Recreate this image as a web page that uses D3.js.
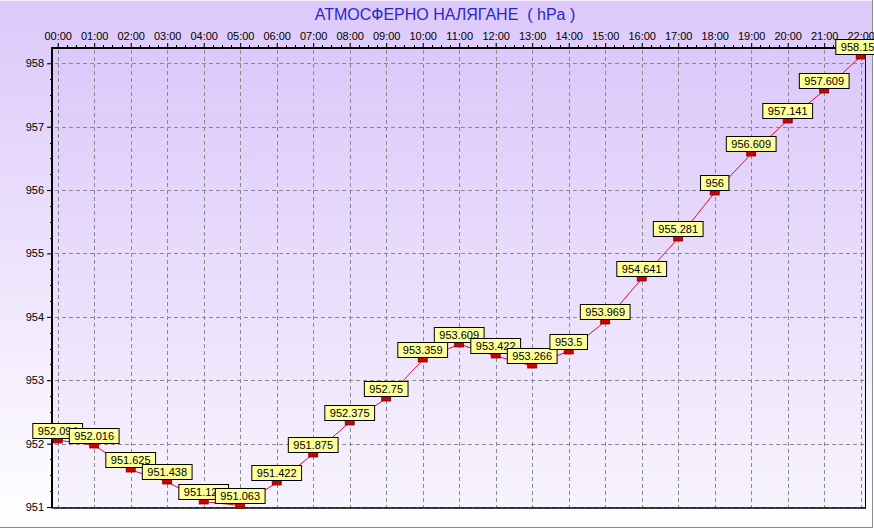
<!DOCTYPE html>
<html>
<head>
<meta charset="utf-8">
<script src="https://cdn.jsdelivr.net/npm/d3@7"></script>
<style>
  body { margin: 0; background: #fff; }
  svg { display: block; font-family: "Liberation Sans", Arial, sans-serif; }
</style>
</head>
<body>
<div id="chart"></div>
<script>
// hourly readings
const hours = ["00:00", "01:00", "02:00", "03:00", "04:00", "05:00", "06:00", "07:00", "08:00", "09:00", "10:00", "11:00",
  "12:00", "13:00", "14:00", "15:00", "16:00", "17:00", "18:00", "19:00", "20:00", "21:00", "22:00"];
const pressure = [952.094, 952.016, 951.625, 951.438, 951.125, 951.063, 951.422, 951.875, 952.375, 952.75, 953.359, 953.609,
  953.422, 953.266, 953.5, 953.969, 954.641, 955.281, 956, 956.609, 957.141, 957.609, 958.150];
const labels = ["952.094", "952.016", "951.625", "951.438", "951.125", "951.063", "951.422", "951.875", "952.375", "952.75", "953.359", "953.609",
  "953.422", "953.266", "953.5", "953.969", "954.641", "955.281", "956", "956.609", "957.141", "957.609", "958.150"];
const yTicks = [951, 952, 953, 954, 955, 956, 957, 958];
const title = "АТМОСФЕРНО НАЛЯГАНЕ  ( hPa )";

const data = hours.map((h, i) => ({ hour: h, value: pressure[i], label: labels[i] }));

const width = 874, height = 529;
const plot = { left: 53, top: 48, right: 865, bottom: 507.5 };

const x = d3.scalePoint().domain(hours).range([57.7, 860.7]);
const y = d3.scaleLinear().domain([951, 958]).range([507, 63.3]);

const svg = d3.select("#chart").append("svg").attr("width", width).attr("height", height);
const defs = svg.append("defs");

const bgGrad = defs.append("linearGradient").attr("id", "bg").attr("x1", 0).attr("y1", 0).attr("x2", 0).attr("y2", 1);
bgGrad.append("stop").attr("offset", "0%").attr("stop-color", "#dcc8fa");
bgGrad.append("stop").attr("offset", "100%").attr("stop-color", "#ffffff");

const plotGrad = defs.append("linearGradient").attr("id", "plotbg").attr("x1", 0).attr("y1", 0).attr("x2", 0).attr("y2", 1);
plotGrad.append("stop").attr("offset", "0%").attr("stop-color", "#dcc8fa");
plotGrad.append("stop").attr("offset", "100%").attr("stop-color", "#f7f3fe");

// background + panel border
svg.append("rect").attr("width", 873).attr("height", 528).attr("fill", "url(#bg)");
svg.append("line").attr("x1", 0).attr("x2", 873).attr("y1", 527.5).attr("y2", 527.5).attr("stroke", "#8c8c8c");
svg.append("line").attr("x1", 872.5).attr("x2", 872.5).attr("y1", 0).attr("y2", 528).attr("stroke", "#8c8c8c");
svg.append("line").attr("x1", 0).attr("x2", 872).attr("y1", 0.5).attr("y2", 0.5).attr("stroke", "#f4eefe");

svg.append("rect")
  .attr("x", plot.left).attr("y", plot.top)
  .attr("width", plot.right - plot.left).attr("height", plot.bottom - plot.top)
  .attr("fill", "url(#plotbg)");

// title
svg.append("text")
  .attr("x", 445).attr("y", 20)
  .attr("text-anchor", "middle")
  .attr("fill", "#2828c8")
  .style("font-family", "'Liberation Sans Narrow', 'Arial Narrow', sans-serif")
  .style("font-size", "16px")
  .style("white-space", "pre")
  .text(title);

// grid
const grid = svg.append("g").attr("stroke", "#8a8a8a").attr("stroke-dasharray", "4,3").attr("stroke-width", 1);
grid.selectAll("line.v").data(hours).join("line").attr("class", "v")
  .attr("x1", d => Math.round(x(d)) + 0.5).attr("x2", d => Math.round(x(d)) + 0.5)
  .attr("y1", 43).attr("y2", plot.bottom);
grid.selectAll("line.h").data(yTicks).join("line").attr("class", "h")
  .attr("y1", d => Math.round(y(d)) + 0.5).attr("y2", d => Math.round(y(d)) + 0.5)
  .attr("x1", 48).attr("x2", plot.right);

// top axis
const xAxis = d3.axisTop(x).tickSize(4).tickPadding(3);
const gx = svg.append("g").attr("transform", `translate(0,${plot.top - 1})`).call(xAxis);
gx.select(".domain").remove();
gx.selectAll("text").style("font-size", "11px").attr("fill", "#000");
gx.selectAll("line").attr("stroke", "#000");

// minor ticks on top axis
const minorX = [];
for (let i = 0; i < hours.length - 1; i++) {
  for (let k = 1; k < 4; k++) minorX.push(x(hours[i]) + (x(hours[i + 1]) - x(hours[i])) * k / 4);
}
svg.append("g").selectAll("line").data(minorX).join("line")
  .attr("x1", d => Math.round(d) + 0.5).attr("x2", d => Math.round(d) + 0.5)
  .attr("y1", plot.top - 3).attr("y2", plot.top)
  .attr("stroke", "#000");

// left axis
const yAxis = d3.axisLeft(y).tickValues(yTicks).tickSize(5).tickPadding(3).tickFormat(d3.format("d"));
const gy = svg.append("g").attr("transform", `translate(${plot.left - 1},0)`).call(yAxis);
gy.select(".domain").remove();
gy.selectAll("text").style("font-size", "11px").attr("fill", "#000");
gy.selectAll("line").attr("stroke", "#000");

const minorY = d3.range(951, 958, 0.25).filter(v => v % 1 !== 0);
svg.append("g").selectAll("line").data(minorY).join("line")
  .attr("y1", d => Math.round(y(d)) + 0.5).attr("y2", d => Math.round(y(d)) + 0.5)
  .attr("x1", plot.left - 3).attr("x2", plot.left)
  .attr("stroke", "#000");

// frame
svg.append("line").attr("x1", plot.left - 1).attr("x2", plot.right).attr("y1", plot.top).attr("y2", plot.top)
  .attr("stroke", "#000").attr("stroke-width", 2);
svg.append("line").attr("x1", plot.left - 1).attr("x2", plot.left - 1).attr("y1", plot.top - 1).attr("y2", plot.bottom + 1)
  .attr("stroke", "#000").attr("stroke-width", 2);
svg.append("line").attr("x1", plot.right + 0.5).attr("x2", plot.right + 0.5).attr("y1", plot.top).attr("y2", plot.bottom + 1)
  .attr("stroke", "#000");
svg.append("line").attr("x1", plot.left).attr("x2", plot.right + 1).attr("y1", plot.bottom + 0.5).attr("y2", plot.bottom + 0.5)
  .attr("stroke", "#000").attr("stroke-width", 1.5);

// series line
const line = d3.line().x(d => x(d.hour)).y(d => y(d.value) + 2.5);
svg.append("path").datum(data)
  .attr("d", line)
  .attr("fill", "none")
  .attr("stroke", "#e0102a")
  .attr("stroke-width", 1);

// markers + value labels, later points on top
const pts = svg.append("g").selectAll("g.pt").data(data).join("g").attr("class", "pt")
  .attr("transform", d => `translate(${x(d.hour)},${Math.round(y(d.value)) + 0.5})`);

pts.append("rect")
  .attr("x", -4.5).attr("y", 0).attr("width", 9).attr("height", 4.5)
  .attr("fill", "#d00000").attr("stroke", "#7a0000").attr("stroke-width", 0.8);

const lbl = pts.append("g");
lbl.append("rect").attr("class", "box");
lbl.append("text")
  .attr("text-anchor", "middle")
  .attr("y", -4)
  .style("font-size", "11px")
  .attr("fill", "#000")
  .text(d => d.label);

lbl.each(function () {
  const g = d3.select(this);
  const w = g.select("text").node().getComputedTextLength() + 10;
  g.select("rect.box")
    .attr("x", -w / 2).attr("y", -15).attr("width", w).attr("height", 15)
    .attr("fill", "#ffff9c").attr("stroke", "#000").attr("stroke-width", 1);
});
</script>
</body>
</html>
